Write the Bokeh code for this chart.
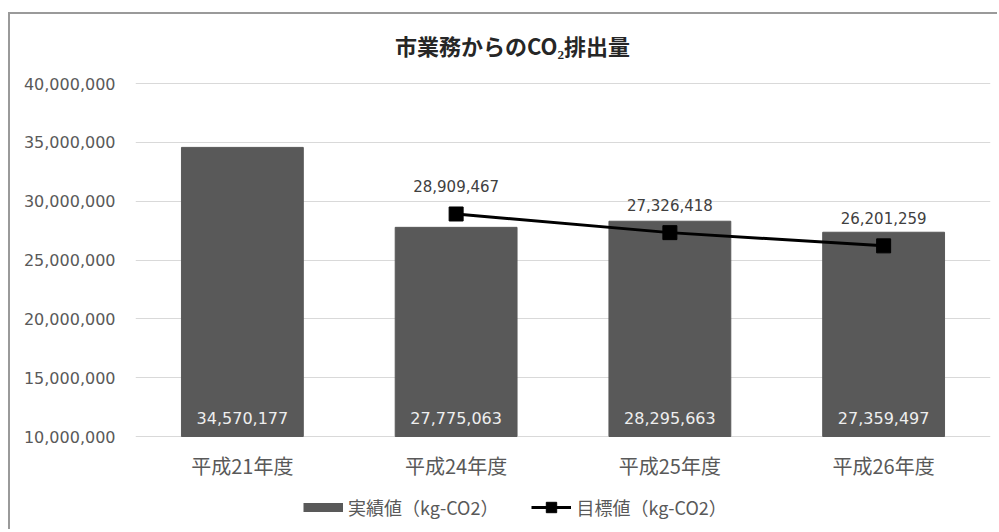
from bokeh.plotting import figure
from bokeh.models import Range1d, FactorRange, Legend, LegendItem, FixedTicker, NumeralTickFormatter, Label
from bokeh.core.properties import value
from bokeh.embed import file_html
from bokeh.resources import INLINE

title_text = "市業務からのCO₂排出量"
categories = ["平成21年度", "平成24年度", "平成25年度", "平成26年度"]
actual = [34570177, 27775063, 28295663, 27359497]
target_categories = ["平成24年度", "平成25年度", "平成26年度"]
target = [28909467, 27326418, 26201259]
y_ticks = [10000000, 15000000, 20000000, 25000000, 30000000, 35000000, 40000000]
series_names = ["実績値（kg-CO2）", "目標値（kg-CO2）"]

JP = "Noto Sans CJK JP"
NUM = "DejaVu Sans"
GRAY = "#595959"

# layout (pixels): the value axis spans 353 px; the frame extends above and below it
u = (y_ticks[-1] - y_ticks[0]) / 353.0
y_start = y_ticks[0] - 93 * u
y_end = y_ticks[-1] + 64 * u

p = figure(x_range=FactorRange(factors=categories, range_padding=0),
           y_range=Range1d(y_start, y_end),
           width=989, height=517, output_backend="svg", toolbar_location=None,
           min_border_left=125, min_border_right=9, min_border_top=5, min_border_bottom=2,
           background_fill_color="white", border_fill_color="white")
p.styles = {"margin-top": "12px", "margin-left": "8px",
            "border-top": "2px solid #9a9a9a", "border-left": "2px solid #9a9a9a"}
p.outline_line_color = None

p.xgrid.grid_line_color = None
p.ygrid.grid_line_color = "#d9d9d9"
p.ygrid.grid_line_width = 1

p.yaxis.ticker = FixedTicker(ticks=y_ticks)
p.yaxis.formatter = NumeralTickFormatter(format="0,0")
p.yaxis.axis_line_color = None
p.yaxis.major_tick_line_color = None
p.yaxis.minor_tick_line_color = None
p.yaxis.major_label_text_font = NUM
p.yaxis.major_label_text_font_size = "16px"
p.yaxis.major_label_text_color = GRAY
p.yaxis.major_label_standoff = 14

p.xaxis.axis_line_color = None
p.xaxis.major_tick_line_color = None
p.xaxis.minor_tick_line_color = None
p.xaxis.major_label_text_font = JP
p.xaxis.major_label_text_font_size = "20px"
p.xaxis.major_label_text_color = GRAY
p.xaxis.major_label_standoff = -85

p.vbar(x=categories, top=actual, bottom=y_ticks[0], width=0.57, color=GRAY)

p.text(x=categories, y=[y_ticks[0]] * len(actual), text=[f"{v:,}" for v in actual],
       text_align="center", text_baseline="bottom", y_offset=-13,
       text_font=value(NUM), text_font_size="16px", text_color="#eeeeee")

line_r = p.line(x=target_categories, y=target, line_color="black", line_width=3)
mark_r = p.scatter(x=target_categories, y=target, marker="square", size=14,
                   fill_color="black", line_color="black")
p.text(x=target_categories, y=target, text=[f"{v:,}" for v in target],
       text_align="center", text_baseline="bottom", y_offset=-22,
       text_font=value(NUM), text_font_size="15px", text_color="#404040")

swatch = p.line(x=[categories[0]], y=[float("nan")], line_color=GRAY, line_width=9)

legend = Legend(items=[LegendItem(label=series_names[0], renderers=[swatch]),
                       LegendItem(label=series_names[1], renderers=[line_r, mark_r])],
                orientation="horizontal", location=(168, 9),
                glyph_width=40, glyph_height=26, label_standoff=5, spacing=33,
                padding=0, margin=0, border_line_color=None, background_fill_alpha=0,
                label_text_font=JP, label_text_font_size="18px", label_text_color=GRAY)
p.add_layout(legend)

p.add_layout(Label(x=1.764, y=y_ticks[-1] + 39 * u, text=title_text,
                   text_align="center", text_baseline="middle",
                   text_font=JP, text_font_style="bold", text_font_size="22px",
                   text_color="#262626"))

open("out.html", "w").write(file_html(p, INLINE))
